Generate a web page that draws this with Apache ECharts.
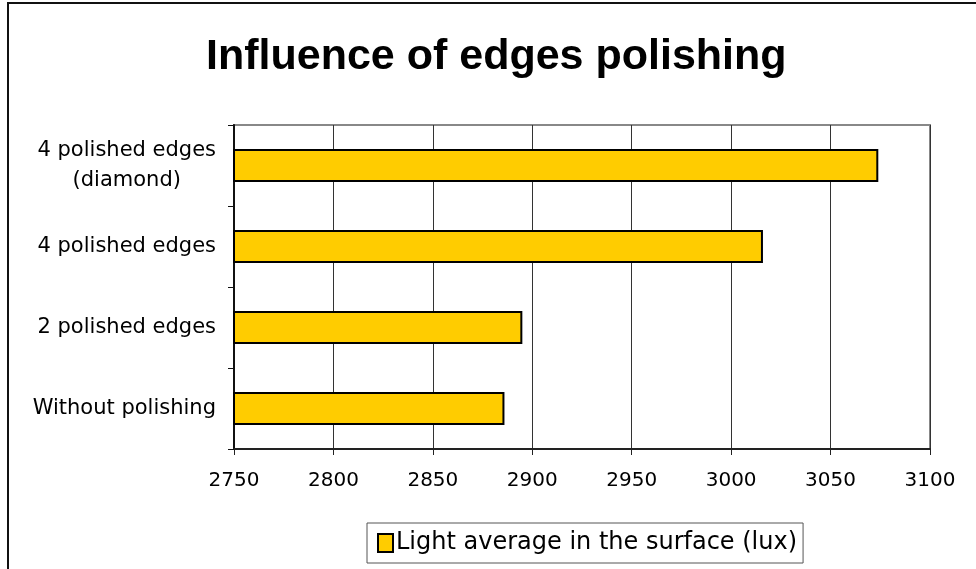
<!DOCTYPE html>
<html>
<head>
<meta charset="utf-8">
<script src="https://cdn.jsdelivr.net/npm/echarts@6/dist/echarts.min.js"></script>
<style>
  html, body { margin: 0; padding: 0; background: #fff; }
  #chart { width: 976px; height: 569px; }
</style>
</head>
<body>
<div id="chart"></div>
<script>
// categories, top to bottom
const categories = ['4 polished edges\n(diamond)', '4 polished edges', '2 polished edges', 'Without polishing'];
const lightAverage = [3074, 3016, 2895, 2886];
const seriesName = 'Light average in the surface (lux)';
const xTicks = [2750, 2800, 2850, 2900, 2950, 3000, 3050, 3100];

const labelFont = 'DejaVu Sans';

const chart = echarts.init(document.getElementById('chart'));
const option = {
    animation: false,
    title: {
        text: 'Influence of edges polishing',
        left: 206,
        top: 36,
        padding: 0,
        textStyle: {
            fontFamily: 'Liberation Sans',
            fontWeight: 'bold',
            fontSize: 43,
            color: '#000'
        }
    },
    graphic: [
        {
            type: 'rect',
            shape: { x: 8, y: 3, width: 1000, height: 600 },
            style: { fill: 'none', stroke: '#111', lineWidth: 2 },
            silent: true
        }
    ],
    legend: {
        data: [seriesName],
        icon: 'rect',
        left: 367,
        top: 523,
        padding: [8, 6, 8, 10],
        itemWidth: 15,
        itemHeight: 18,
        itemGap: 4,
        borderColor: '#555',
        borderWidth: 1,
        itemStyle: { borderColor: '#000', borderWidth: 2 },
        textStyle: { fontFamily: labelFont, fontSize: 24, color: '#000', padding: [0, 0, 0, -2] }
    },
    grid: {
        left: 234,
        top: 125,
        width: 696,
        height: 324,
        show: true,
        borderColor: '#888',
        borderWidth: 2,
        containLabel: false
    },
    xAxis: {
        type: 'value',
        min: xTicks[0],
        max: xTicks[xTicks.length - 1],
        interval: 50,
        axisLine: { show: true, lineStyle: { color: '#222', width: 2 } },
        axisTick: { show: true, length: 6, lineStyle: { color: '#222' } },
        splitLine: { show: true, lineStyle: { color: '#333', width: 1 } },
        axisLabel: {
            fontFamily: labelFont,
            fontSize: 20,
            color: '#000',
            margin: 22,
            formatter: v => String(v)
        }
    },
    yAxis: {
        type: 'category',
        inverse: true,
        data: categories,
        axisLine: { show: true, lineStyle: { color: '#111', width: 2 } },
        axisTick: { show: true, length: 6, lineStyle: { color: '#111' } },
        splitLine: { show: false },
        axisLabel: {
            margin: 18,
            formatter: function (v) {
                return v.split('\n').map(s => '{c|' + s + '}').join('\n');
            },
            rich: {
                c: { fontFamily: labelFont, fontSize: 21, color: '#000', align: 'center', lineHeight: 30 }
            }
        }
    },
    series: [
        {
            name: seriesName,
            type: 'bar',
            barWidth: 33,
            data: lightAverage,
            itemStyle: { color: '#FFCC00', borderColor: '#000', borderWidth: 2 }
        }
    ]
};
chart.setOption(option);
window.addEventListener('resize', () => chart.resize());
</script>
</body>
</html>
